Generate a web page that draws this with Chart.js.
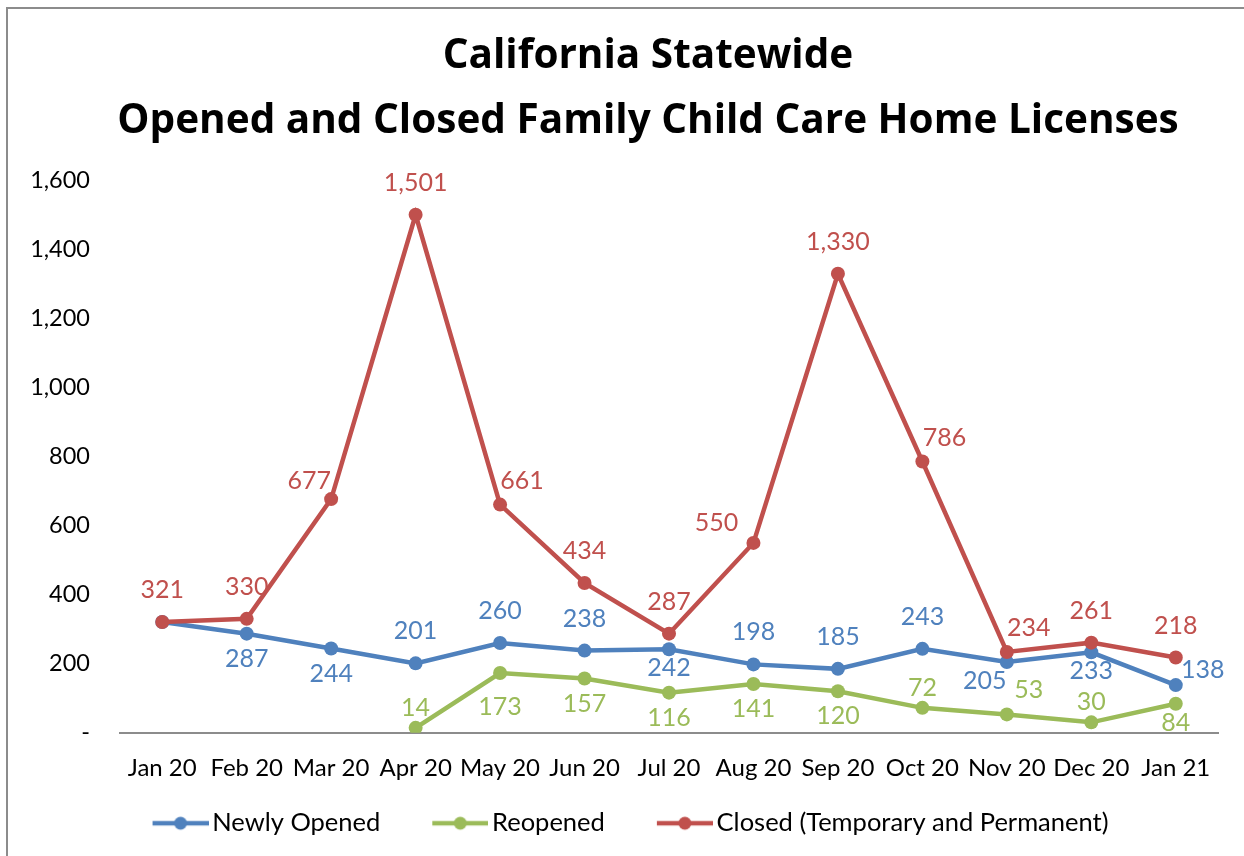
<!DOCTYPE html>
<html>
<head>
<meta charset="utf-8">
<title>Family Child Care Home Licenses</title>
<script src="https://cdn.jsdelivr.net/npm/chart.js@4.4.0/dist/chart.umd.min.js"></script>
<style>
  html, body { margin: 0; padding: 0; background: #fff; }
  #frame {
    position: absolute; left: 6px; top: 7px; width: 1300px; height: 900px;
    border-left: 2px solid #8c8c8c; border-top: 2px solid #8c8c8c;
  }
  #wrap { position: absolute; left: 0; top: 0; width: 1244px; height: 856px; }
</style>
</head>
<body>
<div id="frame"></div>
<div id="wrap"><canvas id="myChart"></canvas></div>
<script>
// monthly license counts
const months = ['Jan 20', 'Feb 20', 'Mar 20', 'Apr 20', 'May 20', 'Jun 20', 'Jul 20',
                'Aug 20', 'Sep 20', 'Oct 20', 'Nov 20', 'Dec 20', 'Jan 21'];
const newlyOpened = [321, 287, 244, 201, 260, 238, 242, 198, 185, 243, 205, 233, 138];
const reopened = [null, null, null, 14, 173, 157, 116, 141, 120, 72, 53, 30, 84];
const closed = [321, 330, 677, 1501, 661, 434, 287, 550, 1330, 786, 234, 261, 218];
const yTicks = [0, 200, 400, 600, 800, 1000, 1200, 1400, 1600];

// where each value label sits next to its point
const newlyOpenedLabelPos = [null, 'below', 'below', 'above', 'above', 'above', 'belowNear',
                             'above', 'above', 'above', 'belowLeft', 'belowNear', 'right'];
const reopenedLabelPos = [null, null, null, 'aboveNear', 'belowFar', 'below', 'below',
                          'below', 'below', 'aboveNear', 'aboveRight', 'aboveNear', 'belowNear'];
const closedLabelPos = ['above', 'above', 'aboveLeft', 'above', 'aboveRight', 'above', 'above',
                        'left', 'above', 'aboveRight', 'aboveRight', 'above', 'above'];

const labelOffsets = {
  above: [0, -32],
  aboveNear: [0, -20],
  below: [0, 25],
  belowNear: [0, 19],
  belowFar: [0, 34],
  right: [27, -15],
  left: [-37, -20],
  aboveLeft: [-22, -18],
  aboveRight: [22, -24],
  belowLeft: [-22, 19]
};

const BLUE = '#4f81bd';
const GREEN = '#9bbb59';
const RED = '#c0504d';
const FONT = 'Lato, "Noto Sans", sans-serif';

// legend swatch: line with a dot, with blank space on the left to
// separate the entries
const SWATCH_GAP = 45;
const LEGEND_FONT = 25.5;
const SWATCH_BOX = SWATCH_GAP + 47;

function legendSwatch(color) {
  const c = document.createElement('canvas');
  c.width = SWATCH_GAP + 65;
  c.height = 16;
  const g = c.getContext('2d');
  const x0 = c.width - 56;
  g.strokeStyle = color;
  g.lineWidth = 4.5;
  g.beginPath();
  g.moveTo(x0, 8);
  g.lineTo(c.width, 8);
  g.stroke();
  g.fillStyle = color;
  g.beginPath();
  g.arc(x0 + 28, 8, 6.5, 0, Math.PI * 2);
  g.fill();
  return c;
}

const pointLabels = {
  id: 'pointLabels',
  afterDatasetsDraw(chart) {
    const ctx = chart.ctx;
    chart.data.datasets.forEach((ds, i) => {
      const meta = chart.getDatasetMeta(i);
      meta.data.forEach((pt, j) => {
        const v = ds.data[j];
        const pos = ds.labelPos[j];
        if (v == null || !pos) return;
        const off = labelOffsets[pos];
        ctx.save();
        ctx.fillStyle = ds.borderColor;
        ctx.font = '25px ' + FONT;
        ctx.textAlign = 'center';
        ctx.textBaseline = 'middle';
        ctx.fillText(v.toLocaleString('en-US'), pt.x + off[0], pt.y + off[1]);
        ctx.restore();
      });
    });
  }
};

// title sits a bit right of the canvas centre, legend a bit left
const blockShift = {
  id: 'blockShift',
  afterLayout(chart) {
    chart.titleBlock.left += 29;
    chart.titleBlock.right += 29;
    chart.legend.left -= 11;
    chart.legend.right -= 11;
  }
};

function makeSeries(label, data, color, labelPos, order) {
  return {
    label: label,
    data: data,
    borderColor: color,
    backgroundColor: color,
    borderWidth: 4.5,
    pointRadius: 7,
    pointHoverRadius: 7,
    pointBackgroundColor: color,
    pointBorderWidth: 0,
    tension: 0,
    fill: false,
    labelPos: labelPos,
    swatch: legendSwatch(color),
    order: order
  };
}

document.addEventListener('DOMContentLoaded', () => {
  const ctx = document.getElementById('myChart').getContext('2d');

  new Chart(ctx, {
    type: 'line',
    data: {
      labels: months,
      datasets: [
        makeSeries('Newly Opened', newlyOpened, BLUE, newlyOpenedLabelPos, 3),
        makeSeries('Reopened', reopened, GREEN, reopenedLabelPos, 2),
        makeSeries('Closed (Temporary and Permanent)', closed, RED, closedLabelPos, 1)
      ]
    },
    options: {
      responsive: true,
      maintainAspectRatio: false,
      animation: false,
      layout: { padding: { left: 20, right: 26, top: 0, bottom: 10 } },
      scales: {
        x: {
          offset: true,
          grid: { display: false, drawTicks: false },
          border: { display: true, color: '#8c8c8c', width: 2 },
          ticks: { color: '#000', padding: 21, maxRotation: 0, font: { family: FONT, size: 24 } }
        },
        y: {
          min: 0,
          max: 1600,
          afterBuildTicks: (scale) => { scale.ticks = yTicks.map(v => ({ value: v })); },
          afterFit: (scale) => { scale.width = 100; },
          grid: { display: false, drawTicks: false },
          border: { display: false },
          ticks: {
            color: '#000',
            padding: 30,
            font: { family: FONT, size: 23.5 },
            callback: (v) => v === 0 ? '-' : v.toLocaleString('en-US')
          }
        }
      },
      plugins: {
        title: {
          display: true,
          text: ['California Statewide', 'Opened and Closed Family Child Care Home Licenses'],
          color: '#000',
          font: { family: '"Open Sans", Lato, sans-serif', size: 40.5, weight: 'bold', lineHeight: 1.6 },
          padding: { top: 24, bottom: 27 }
        },
        legend: {
          position: 'bottom',
          labels: {
            color: '#000',
            font: { family: FONT, size: LEGEND_FONT },
            usePointStyle: true,
            pointStyleWidth: SWATCH_BOX,
            padding: 7,
            generateLabels: (chart) => {
              const items = Chart.defaults.plugins.legend.labels.generateLabels(chart);
              items.sort((a, b) => a.datasetIndex - b.datasetIndex);
              items.forEach(it => { it.pointStyle = chart.data.datasets[it.datasetIndex].swatch; });
              return items;
            }
          }
        },
        tooltip: { enabled: false }
      }
    },
    plugins: [pointLabels, blockShift]
  });
});
</script>
</body>
</html>
